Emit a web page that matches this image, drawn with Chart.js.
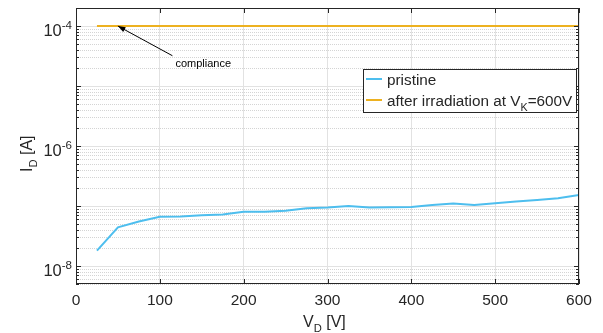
<!DOCTYPE html>
<html>
<head>
<meta charset="utf-8">
<script src="https://cdn.jsdelivr.net/npm/chart.js@4.4.1/dist/chart.umd.min.js"></script>
<style>
  html, body { margin: 0; padding: 0; background: #fff; }
</style>
</head>
<body>
<canvas id="ivChart" width="603" height="333"></canvas>
<script>
// drain voltage sweep [V]
const voltages = [25, 50, 75, 100, 125, 150, 175, 200, 225, 250, 275, 300,
                  325, 350, 375, 400, 425, 450, 475, 500, 525, 550, 575, 600];
// leakage current [A]
const pristine = [1.8e-8, 4.4e-8, 5.5e-8, 6.6e-8, 6.7e-8, 7.0e-8, 7.2e-8, 8.0e-8,
                  8.0e-8, 8.3e-8, 9.2e-8, 9.4e-8, 1.0e-7, 9.4e-8, 9.5e-8, 9.6e-8,
                  1.04e-7, 1.1e-7, 1.04e-7, 1.11e-7, 1.19e-7, 1.26e-7, 1.34e-7, 1.52e-7];
const irradiated = [1e-4, 1e-4, 1e-4, 1e-4, 1e-4, 1e-4, 1e-4, 1e-4,
                    1e-4, 1e-4, 1e-4, 1e-4, 1e-4, 1e-4, 1e-4, 1e-4,
                    1e-4, 1e-4, 1e-4, 1e-4, 1e-4, 1e-4, 1e-4, 1e-4];

const xTicks = [0, 100, 200, 300, 400, 500, 600];
const yDecades = [-8, -6, -4];
const yMin = 5e-9;
const yMax = 2e-4;

// compliance arrow: head on the orange line, tail down-right
const arrowHead = { x: 50, y: 1e-4 };
const arrowTail = { x: 115, y: 3.2e-5 };

const FONT = '"Liberation Sans", Arial, sans-serif';
const BLUE = '#4DBEEE';
const ORANGE = '#EDB120';
const AXIS = '#262626';

function toPoints(ys) {
  return voltages.map((v, i) => ({ x: v, y: ys[i] }));
}

// minor grid (dotted) and major grid (solid) for the log axis
const logGrid = {
  id: 'logGrid',
  beforeDatasetsDraw(chart) {
    const { ctx, chartArea: a, scales: { y } } = chart;
    ctx.save();
    ctx.lineWidth = 1;
    for (let e = -9; e <= -4; e++) {
      for (let m = 1; m <= 9; m++) {
        const v = m * Math.pow(10, e);
        if (v < yMin || v > yMax) continue;
        const py = Math.round(y.getPixelForValue(v)) + 0.5;
        ctx.strokeStyle = m === 1 ? '#e2e2e2' : '#d4d4d4';
        ctx.setLineDash(m === 1 ? [] : [1, 1]);
        ctx.beginPath();
        ctx.moveTo(a.left, py);
        ctx.lineTo(a.right, py);
        ctx.stroke();
      }
    }
    ctx.restore();
  }
};

function drawSup(ctx, base, sup, x, baseY, size, align) {
  ctx.font = size + 'px ' + FONT;
  const w1 = ctx.measureText(base).width;
  ctx.font = (size * 0.7) + 'px ' + FONT;
  const w2 = ctx.measureText(sup).width;
  const start = align === 'right' ? x - w1 - w2 : x;
  ctx.textAlign = 'left';
  ctx.textBaseline = 'alphabetic';
  ctx.font = size + 'px ' + FONT;
  ctx.fillText(base, start, baseY);
  ctx.font = (size * 0.7) + 'px ' + FONT;
  ctx.fillText(sup, start + w1, baseY - size * 0.4);
}

// draws a run of [text, isSubscript] parts, returns end x
function drawSub(ctx, parts, x, baseY, size) {
  let cx = x;
  ctx.textAlign = 'left';
  ctx.textBaseline = 'alphabetic';
  parts.forEach(([t, sub]) => {
    ctx.font = (sub ? size * 0.7 : size) + 'px ' + FONT;
    ctx.fillText(t, cx, sub ? baseY + size * 0.33 : baseY);
    cx += ctx.measureText(t).width;
  });
  return cx;
}

const decorations = {
  id: 'decorations',
  afterDatasetsDraw(chart) {
    const { ctx, chartArea: a, scales: { x, y } } = chart;
    ctx.save();

    // axes box
    ctx.strokeStyle = AXIS;
    ctx.lineWidth = 1;
    ctx.setLineDash([]);
    ctx.strokeRect(a.left + 0.5, a.top + 0.5, a.right - a.left - 1, a.bottom - a.top - 1);

    // inward tick marks
    ctx.beginPath();
    xTicks.forEach(t => {
      const px = Math.round(x.getPixelForValue(t)) + 0.5;
      ctx.moveTo(px, a.bottom); ctx.lineTo(px, a.bottom - 5);
      ctx.moveTo(px, a.top); ctx.lineTo(px, a.top + 5);
    });
    for (let e = -9; e <= -4; e++) {
      for (let m = 1; m <= 9; m++) {
        const v = m * Math.pow(10, e);
        if (v < yMin || v > yMax) continue;
        const py = Math.round(y.getPixelForValue(v)) + 0.5;
        const len = m === 1 ? 5 : 3;
        ctx.moveTo(a.left, py); ctx.lineTo(a.left + len, py);
        ctx.moveTo(a.right, py); ctx.lineTo(a.right - len, py);
      }
    }
    ctx.stroke();

    ctx.fillStyle = AXIS;

    // x tick labels
    ctx.font = '15.5px ' + FONT;
    ctx.textAlign = 'center';
    ctx.textBaseline = 'alphabetic';
    xTicks.forEach(t => ctx.fillText(String(t), x.getPixelForValue(t), 304.5));

    // y tick labels 10^n
    yDecades.forEach(e => {
      const py = y.getPixelForValue(Math.pow(10, e));
      drawSup(ctx, '10', String(e), a.left - 4, py + 10, 16.5, 'right');
    });

    // axis titles
    drawSub(ctx, [['V', false], ['D', true], [' [V]', false]], 303, 327, 16);
    ctx.save();
    ctx.translate(32, 172);
    ctx.rotate(-Math.PI / 2);
    drawSub(ctx, [['I', false], ['D', true], [' [A]', false]], 0, 0, 16);
    ctx.restore();

    // compliance arrow
    const hx = x.getPixelForValue(arrowHead.x), hy = y.getPixelForValue(arrowHead.y);
    const tx = x.getPixelForValue(arrowTail.x), ty = y.getPixelForValue(arrowTail.y);
    const ang = Math.atan2(hy - ty, hx - tx);
    ctx.strokeStyle = '#000';
    ctx.fillStyle = '#000';
    ctx.lineWidth = 1;
    ctx.beginPath();
    ctx.moveTo(tx, ty);
    ctx.lineTo(hx, hy);
    ctx.stroke();
    ctx.beginPath();
    ctx.moveTo(hx, hy);
    ctx.lineTo(hx - 8 * Math.cos(ang - 0.35), hy - 8 * Math.sin(ang - 0.35));
    ctx.lineTo(hx - 8 * Math.cos(ang + 0.35), hy - 8 * Math.sin(ang + 0.35));
    ctx.closePath();
    ctx.fill();
    ctx.font = '11px ' + FONT;
    ctx.textAlign = 'left';
    ctx.fillText('compliance', tx + 3, ty + 11);

    // legend
    const lx = 363, ly = 69, lw = 213, lh = 43;
    ctx.fillStyle = '#fff';
    ctx.fillRect(lx, ly, lw, lh);
    ctx.strokeStyle = AXIS;
    ctx.strokeRect(lx + 0.5, ly + 0.5, lw, lh);
    const rows = [
      { color: chart.data.datasets[0].borderColor, y: 79, parts: [['pristine', false]] },
      { color: chart.data.datasets[1].borderColor, y: 100,
        parts: [['after irradiation at V', false], ['K', true], ['=600V', false]] }
    ];
    rows.forEach(r => {
      ctx.strokeStyle = r.color;
      ctx.lineWidth = 2;
      ctx.beginPath();
      ctx.moveTo(366, r.y);
      ctx.lineTo(382, r.y);
      ctx.stroke();
      ctx.fillStyle = AXIS;
      drawSub(ctx, r.parts, 387, r.y + 6, 15.3);
    });

    ctx.restore();
  }
};

new Chart(document.getElementById('ivChart'), {
  type: 'line',
  data: {
    datasets: [
      {
        label: 'pristine',
        data: toPoints(pristine),
        borderColor: BLUE,
        borderWidth: 2,
        pointRadius: 0,
        tension: 0
      },
      {
        label: 'after irradiation at V_K=600V',
        data: toPoints(irradiated),
        borderColor: ORANGE,
        borderWidth: 2,
        pointRadius: 0,
        tension: 0
      }
    ]
  },
  options: {
    responsive: false,
    animation: false,
    devicePixelRatio: 1,
    layout: { padding: { left: 76, top: 8, right: 24, bottom: 49 } },
    plugins: {
      legend: { display: false },
      tooltip: { enabled: false }
    },
    scales: {
      x: {
        type: 'linear',
        min: 0,
        max: 600,
        afterBuildTicks: scale => { scale.ticks = xTicks.map(v => ({ value: v })); },
        ticks: { display: false },
        grid: { color: '#e2e2e2', drawTicks: false },
        border: { display: false }
      },
      y: {
        type: 'logarithmic',
        min: yMin,
        max: yMax,
        ticks: { display: false },
        grid: { display: false, drawTicks: false },
        border: { display: false }
      }
    }
  },
  plugins: [logGrid, decorations]
});
</script>
</body>
</html>
